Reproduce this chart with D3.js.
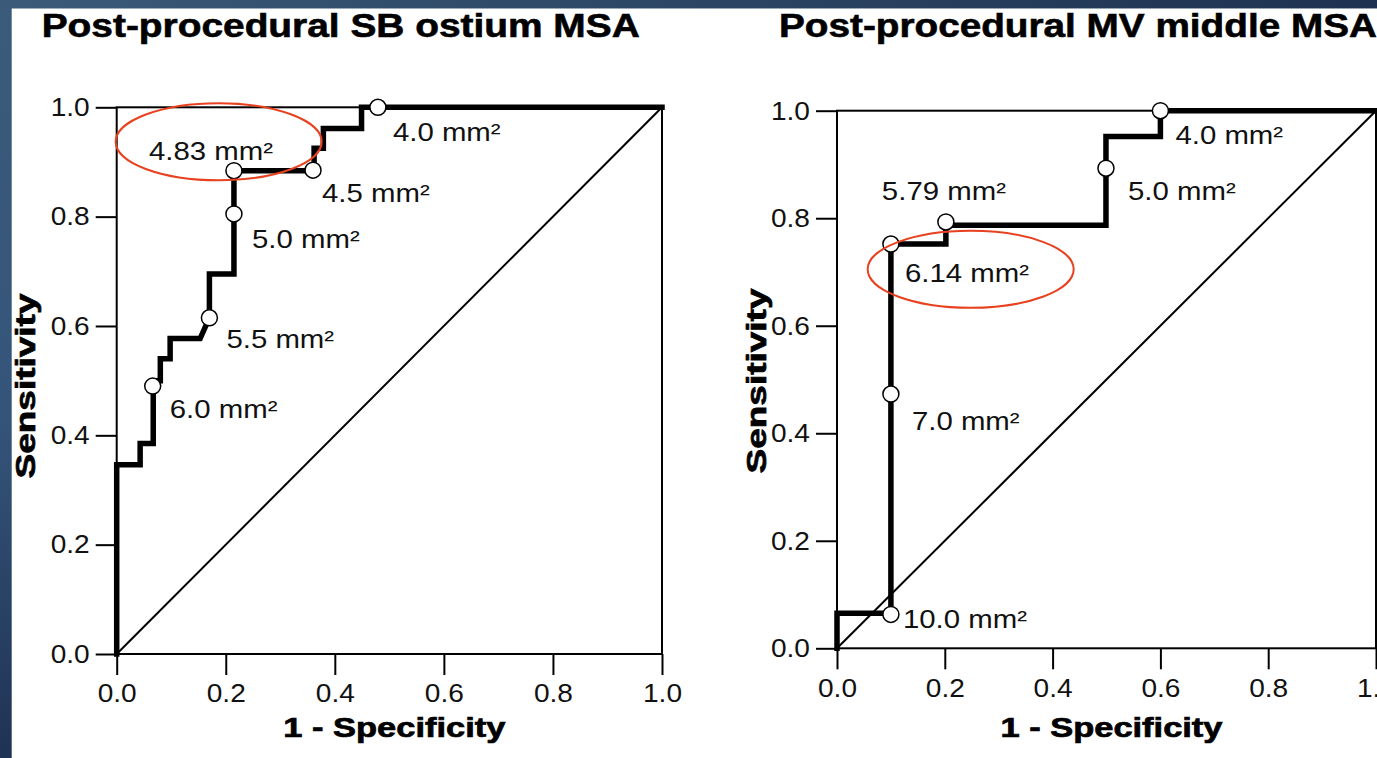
<!DOCTYPE html>
<html>
<head>
<meta charset="utf-8">
<script src="https://cdn.jsdelivr.net/npm/d3@7"></script>
<style>
  body { margin: 0; background: #ffffff; }
  svg { display: block; font-family: "Liberation Sans", Arial, sans-serif; }
</style>
</head>
<body>
<div><svg width="1377" height="758"></svg></div>
<script>
// values
let ticks = [0, 0.2, 0.4, 0.6, 0.8, 1.0];
let tickLabels = ["0.0", "0.2", "0.4", "0.6", "0.8", "1.0"];
let xTitle = "1 - Specificity";
let yTitle = "Sensitivity";

let sbTitle = "Post-procedural SB ostium MSA";
let sbFpr  = [0, 0, 0.043, 0.043, 0.067, 0.067, 0.080, 0.080, 0.098, 0.098, 0.153, 0.170, 0.170, 0.215, 0.215, 0.362, 0.362, 0.379, 0.379, 0.449, 0.449, 1.0];
let sbSens = [0, 0.346, 0.346, 0.385, 0.385, 0.500, 0.500, 0.540, 0.540, 0.577, 0.577, 0.615, 0.695, 0.695, 0.884, 0.884, 0.925, 0.925, 0.961, 0.961, 1.0, 1.0];
let sbCutFpr  = [0.066, 0.170, 0.215, 0.215, 0.360, 0.479];
let sbCutSens = [0.490, 0.615, 0.805, 0.884, 0.885, 1.0];
let sbCutLabels = ["6.0 mm²", "5.5 mm²", "5.0 mm²", "4.83 mm²", "4.5 mm²", "4.0 mm²"];
let sbMarked = [0.187, 0.937];

let mvTitle = "Post-procedural MV middle MSA";
let mvFpr  = [0, 0, 0.100, 0.100, 0.202, 0.202, 0.499, 0.499, 0.600, 0.600, 1.0];
let mvSens = [0, 0.065, 0.065, 0.752, 0.752, 0.787, 0.787, 0.952, 0.952, 1.0, 1.0];
let mvCutFpr  = [0.100, 0.100, 0.100, 0.202, 0.499, 0.600];
let mvCutSens = [0.063, 0.473, 0.752, 0.793, 0.893, 1.0];
let mvCutLabels = ["10.0 mm²", "7.0 mm²", "6.14 mm²", "5.79 mm²", "5.0 mm²", "4.0 mm²"];
let mvMarked = [0.248, 0.705];

// layout
let sbLabelOffsets = [[17, 32], [17, 30], [18, 34], [-85, -11], [9, 32], [15, 34]];
let mvLabelOffsets = [[12, 14], [21, 36], [14, 38], [-64, -22], [22, 32], [15, 33]];

let panels = [
    { title: sbTitle, fpr: sbFpr, sens: sbSens, cutFpr: sbCutFpr, cutSens: sbCutSens, cutLabels: sbCutLabels,
      offsets: sbLabelOffsets, marked: sbMarked,
      x0: 116.7, x1: 662, y0: 654, y1: 107.3, titleX: 41.7, yTitleX: 35, yTitleY: 386 },
    { title: mvTitle, fpr: mvFpr, sens: mvSens, cutFpr: mvCutFpr, cutSens: mvCutSens, cutLabels: mvCutLabels,
      offsets: mvLabelOffsets, marked: mvMarked,
      x0: 837, x1: 1376, y0: 648.3, y1: 110.7, titleX: 779, yTitleX: 766, yTitleY: 381 }
];

let svg = d3.select("body").select("div").select("svg");

// blue slide frame
let defs = svg.append("defs");
let gl = defs.append("linearGradient").attr("id", "leftBlue").attr("x1", 0).attr("y1", 0).attr("x2", 0).attr("y2", 1);
gl.append("stop").attr("offset", "0%").attr("stop-color", "#3b5b7b");
gl.append("stop").attr("offset", "55%").attr("stop-color", "#35547a");
gl.append("stop").attr("offset", "100%").attr("stop-color", "#1f3354");
let gt = defs.append("linearGradient").attr("id", "topBlue").attr("x1", 0).attr("y1", 0).attr("x2", 1).attr("y2", 0);
gt.append("stop").attr("offset", "0%").attr("stop-color", "#3b5a79");
gt.append("stop").attr("offset", "100%").attr("stop-color", "#1e3150");

svg.append("rect").attr("x", 0).attr("y", 0).attr("width", 1377).attr("height", 758).style("fill", "url(#leftBlue)");
svg.append("rect").attr("x", 0).attr("y", 0).attr("width", 1377).attr("height", 8.5).style("fill", "url(#topBlue)");
svg.append("rect").attr("x", 11.7).attr("y", 8.5).attr("width", 1377).attr("height", 758).style("fill", "#ffffff");

function stretch(sel, k) {
    sel.each(function() {
        let w = this.getComputedTextLength();
        d3.select(this).attr("textLength", w * k).attr("lengthAdjust", "spacingAndGlyphs");
    });
}

panels.forEach(function(p) {
    let x = d3.scaleLinear().domain([0, 1]).range([p.x0, p.x1]);
    let y = d3.scaleLinear().domain([0, 1]).range([p.y0, p.y1]);
    let g = svg.append("g");

    // frame box
    g.append("rect")
        .attr("x", x(0)).attr("y", y(1))
        .attr("width", x(1) - x(0)).attr("height", y(0) - y(1))
        .style("fill", "none").style("stroke", "#000").style("stroke-width", 2);

    // axes with long outside ticks
    let xAxis = g.append("g").attr("transform", "translate(0," + y(0) + ")")
        .call(d3.axisBottom(x).tickValues(ticks).tickSize(21).tickPadding(8)
            .tickFormat(function(d, i) { return tickLabels[i]; }));
    let yAxis = g.append("g").attr("transform", "translate(" + x(0) + ",0)")
        .call(d3.axisLeft(y).tickValues(ticks).tickSize(21).tickPadding(6)
            .tickFormat(function(d, i) { return tickLabels[i]; }));
    [xAxis, yAxis].forEach(function(a) {
        a.select(".domain").remove();
        a.selectAll("line").style("stroke", "#000").style("stroke-width", 2);
        a.selectAll("text").style("font-size", "26px").style("fill", "#111");
        a.attr("font-family", null).attr("font-size", null);
    });
    xAxis.selectAll("text").attr("dy", "0.71em").attr("y", 30);
    stretch(xAxis.selectAll("text"), 1.08);
    stretch(yAxis.selectAll("text"), 1.08);

    // chance line
    g.append("line")
        .attr("x1", x(0)).attr("y1", y(0)).attr("x2", x(1)).attr("y2", y(1))
        .style("stroke", "#000").style("stroke-width", 2);

    // ROC curve
    let pts = p.fpr.map(function(d, i) { return [d, p.sens[i]]; });
    let line = d3.line().x(function(d) { return x(d[0]); }).y(function(d) { return y(d[1]); });
    g.append("path").datum(pts).attr("d", line)
        .style("fill", "none").style("stroke", "#000").style("stroke-width", 5.5)
        .style("stroke-linejoin", "miter").style("stroke-linecap", "square");

    // cut-off points
    let cuts = p.cutFpr.map(function(d, i) { return { fpr: d, sens: p.cutSens[i], label: p.cutLabels[i], off: p.offsets[i] }; });
    g.selectAll(".cut").data(cuts).enter().append("circle").attr("class", "cut")
        .attr("cx", function(d) { return x(d.fpr); })
        .attr("cy", function(d) { return y(d.sens); })
        .attr("r", 8)
        .style("fill", "#fff").style("stroke", "#000").style("stroke-width", 1.5);

    let labels = g.selectAll(".cutlabel").data(cuts).enter().append("text").attr("class", "cutlabel")
        .attr("x", function(d) { return x(d.fpr) + d.off[0]; })
        .attr("y", function(d) { return y(d.sens) + d.off[1]; })
        .style("font-size", "26px").style("fill", "#111")
        .text(function(d) { return d.label; });
    stretch(labels, 1.13);

    // red highlight ring
    g.append("ellipse")
        .attr("cx", x(p.marked[0])).attr("cy", y(p.marked[1]))
        .attr("rx", 103).attr("ry", 38.5)
        .style("fill", "none").style("stroke", "#e8411f").style("stroke-width", 2);

    // titles
    svg.append("text")
        .attr("x", p.titleX).attr("y", 36.7)
        .style("font-size", "33px").style("font-weight", "bold")
        .style("stroke", "#000").style("stroke-width", 0.6)
        .attr("textLength", 598).attr("lengthAdjust", "spacingAndGlyphs")
        .text(p.title);

    svg.append("text")
        .attr("x", (p.x0 + p.x1) / 2 + 5).attr("y", 737)
        .style("font-size", "27px").style("font-weight", "bold")
        .style("stroke", "#000").style("stroke-width", 0.7)
        .style("text-anchor", "middle")
        .attr("textLength", 222).attr("lengthAdjust", "spacingAndGlyphs")
        .text(xTitle);

    svg.append("text")
        .attr("transform", "translate(" + p.yTitleX + "," + p.yTitleY + ") rotate(-90)")
        .style("font-size", "27px").style("font-weight", "bold")
        .style("stroke", "#000").style("stroke-width", 0.7)
        .style("text-anchor", "middle")
        .attr("textLength", 185).attr("lengthAdjust", "spacingAndGlyphs")
        .text(yTitle);
});
</script>
</body>
</html>
